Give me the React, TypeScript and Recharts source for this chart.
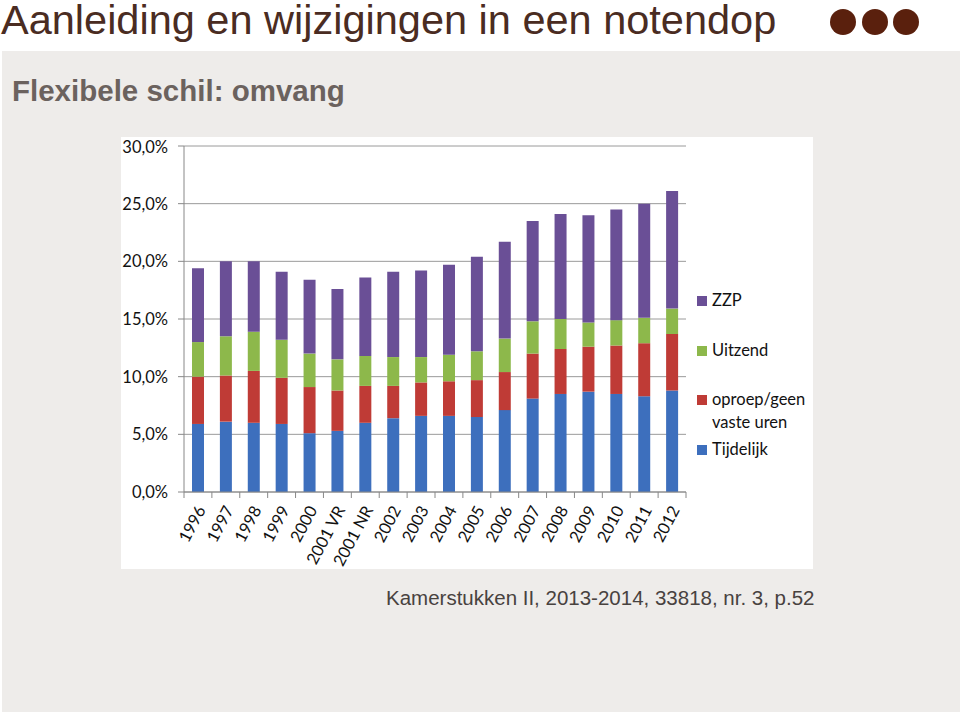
import { BarChart, Bar, XAxis, YAxis, CartesianGrid } from "recharts";

const years = [
  "1996", "1997", "1998", "1999", "2000", "2001 VR", "2001 NR", "2002", "2003",
  "2004", "2005", "2006", "2007", "2008", "2009", "2010", "2011", "2012",
];
const tijdelijk = [5.9, 6.1, 6.0, 5.9, 5.1, 5.3, 6.0, 6.4, 6.6, 6.6, 6.5, 7.1, 8.1, 8.5, 8.7, 8.5, 8.3, 8.8];
const oproep = [4.1, 4.0, 4.5, 4.0, 4.0, 3.5, 3.2, 2.8, 2.9, 3.0, 3.2, 3.3, 3.9, 3.9, 3.9, 4.2, 4.6, 4.9];
const uitzend = [3.0, 3.4, 3.4, 3.3, 2.9, 2.7, 2.6, 2.5, 2.2, 2.3, 2.5, 2.9, 2.8, 2.6, 2.1, 2.2, 2.2, 2.2];
const zzp = [6.4, 6.5, 6.1, 5.9, 6.4, 6.1, 6.8, 7.4, 7.5, 7.8, 8.2, 8.4, 8.7, 9.1, 9.3, 9.6, 9.9, 10.2];
const yTicks = [0, 5, 10, 15, 20, 25, 30];

const legendItems = [
  { label: ["ZZP"], color: "#6a4f96" },
  { label: ["Uitzend"], color: "#8db84b" },
  { label: ["oproep/geen", "vaste uren"], color: "#bf3b36" },
  { label: ["Tijdelijk"], color: "#3d6fbd" },
];

const data = years.map((year, i) => ({
  year,
  tijdelijk: tijdelijk[i],
  oproep: oproep[i],
  uitzend: uitzend[i],
  zzp: zzp[i],
}));

const CHART_W = 692;
const CHART_H = 432;
const MARGIN = { top: 9, right: 127, bottom: 0, left: 0 };
const Y_AXIS_W = 63;
const bandWidth = (CHART_W - MARGIN.left - MARGIN.right - Y_AXIS_W) / years.length;
const chartFont = "Lato, 'Open Sans', sans-serif";

const YearTick = (props: any) => {
  const { x, y, payload, index } = props;
  const tx = x + 3;
  const ty = y + 9;
  return (
    <g>
      <line x1={x - bandWidth / 2} x2={x - bandWidth / 2} y1={y - 6} y2={y} stroke="#888" />
      {index === years.length - 1 && (
        <line x1={x + bandWidth / 2} x2={x + bandWidth / 2} y1={y - 6} y2={y} stroke="#888" />
      )}
      <text
        x={tx}
        y={ty}
        textAnchor="end"
        dominantBaseline="central"
        transform={`rotate(-62, ${tx}, ${ty})`}
        fill="#111"
        fontSize={16.5}
        fontFamily={chartFont}
      >
        {payload.value}
      </text>
    </g>
  );
};

export default function App() {
  return (
    <div
      style={{
        position: "absolute",
        left: 0,
        top: 0,
        width: 960,
        height: 712,
        background: "#fff",
        fontFamily: "'Liberation Sans', Arial, sans-serif",
        overflow: "hidden",
      }}
    >
      <div
        style={{
          position: "absolute",
          left: 2,
          top: 51,
          width: 958,
          height: 661,
          background: "#eeecea",
        }}
      />
      <div
        style={{
          position: "absolute",
          left: 1,
          top: 0,
          fontSize: 41.5,
          color: "#4a2c22",
          whiteSpace: "nowrap",
          lineHeight: "40px",
          paddingTop: 0,
        }}
      >
        Aanleiding en wijzigingen in een notendop
      </div>
      {[843, 875, 906].map((cx) => (
        <div
          key={cx}
          style={{
            position: "absolute",
            left: cx - 13,
            top: 9,
            width: 26,
            height: 26,
            borderRadius: "50%",
            background: "#5a200d",
          }}
        />
      ))}
      <div
        style={{
          position: "absolute",
          left: 12,
          top: 74,
          fontSize: 29.5,
          fontWeight: "bold",
          color: "#6b625e",
          whiteSpace: "nowrap",
          lineHeight: "34px",
        }}
      >
        Flexibele schil: omvang
      </div>

      <div
        style={{
          position: "absolute",
          left: 121,
          top: 137,
          width: CHART_W,
          height: CHART_H,
          background: "#fff",
        }}
      >
        <BarChart width={CHART_W} height={CHART_H} data={data} margin={MARGIN} barSize={12}>
          <CartesianGrid horizontal vertical={false} stroke="#9a9a9a" />
          <XAxis
            dataKey="year"
            interval={0}
            height={77}
            tickLine={false}
            tickSize={6}
            tickMargin={0}
            axisLine={{ stroke: "#888" }}
            tick={<YearTick />}
          />
          <YAxis
            width={Y_AXIS_W}
            domain={[0, 30]}
            ticks={yTicks}
            tickSize={6}
            tickMargin={10}
            axisLine={{ stroke: "#888" }}
            tickLine={{ stroke: "#888" }}
            tick={{ fill: "#111", fontSize: 16.5, fontFamily: chartFont }}
            tickFormatter={(v: number) => v.toFixed(1).replace(".", ",") + "%"}
          />
          <Bar dataKey="tijdelijk" stackId="a" fill="#3d6fbd" isAnimationActive={false} />
          <Bar dataKey="oproep" stackId="a" fill="#bf3b36" isAnimationActive={false} />
          <Bar dataKey="uitzend" stackId="a" fill="#8db84b" isAnimationActive={false} />
          <Bar dataKey="zzp" stackId="a" fill="#6a4f96" isAnimationActive={false} />
        </BarChart>

        <div
          style={{
            position: "absolute",
            left: 576,
            top: 152,
            fontFamily: chartFont,
            fontSize: 16.5,
            color: "#111",
          }}
        >
          {legendItems.map((item, i) => (
            <div
              key={i}
              style={{
                display: "flex",
                alignItems: "flex-start",
                height: 49.5,
                lineHeight: "23px",
              }}
            >
              <span
                style={{
                  width: 10,
                  height: 10,
                  background: item.color,
                  marginTop: 7,
                  marginRight: 5,
                  flexShrink: 0,
                }}
              />
              <span>
                {item.label.map((l) => (
                  <div key={l}>{l}</div>
                ))}
              </span>
            </div>
          ))}
        </div>
      </div>

      <div
        style={{
          position: "absolute",
          left: 386,
          top: 586,
          fontSize: 20.5,
          color: "#48423f",
          whiteSpace: "nowrap",
          lineHeight: "24px",
        }}
      >
        Kamerstukken II, 2013-2014, 33818, nr. 3, p.52
      </div>
    </div>
  );
}
